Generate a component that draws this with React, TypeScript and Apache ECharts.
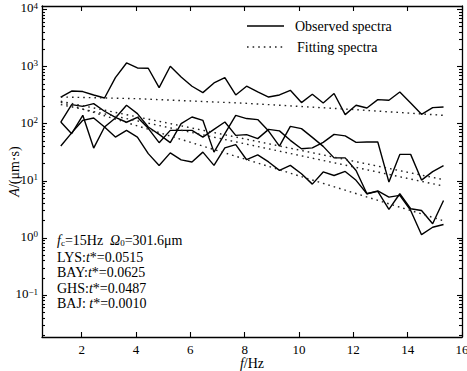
import React, { useEffect, useRef } from "react";
import * as echarts from "echarts";

// Frequencies (Hz) of the observed spectra samples
const freqs = [1.23, 1.63, 2.04, 2.44, 2.84, 3.24, 3.65, 4.05, 4.45, 4.85, 5.26, 5.66, 6.06, 6.46, 6.87, 7.27, 7.67, 8.07, 8.48, 8.88, 9.28, 9.68, 10.09, 10.49, 10.89, 11.29, 11.70, 12.10, 12.50, 12.90, 13.31, 13.71, 14.11, 14.51, 14.92, 15.32];

// Observed spectra (A, µm·s)
const obsTop = [293, 373, 365, 318, 282, 641, 1156, 945, 933, 428, 1012, 658, 452, 350, 516, 641, 318, 453, 362, 293, 318, 384, 234, 327, 230, 337, 144, 210, 188, 264, 257, 359, 230, 146, 191, 196];
const obsUpper = [107, 216, 201, 225, 165, 129, 106, 129, 83, 46.5, 76.4, 76.4, 76.4, 58.3, 79.6, 107, 62.5, 64.3, 54.7, 79.6, 74.9, 51.1, 36.5, 37.7, 47.1, 65.1, 61.2, 47.1, 47.7, 47.7, 9.5, 29.0, 29.0, 10.3, 14.5, 18.4];
const obsMiddle = [107, 66.9, 140, 37.4, 87.4, 126, 210, 150, 87.4, 65.1, 46.5, 100, 131, 114.5, 31.8, 66.9, 140, 123, 118, 74.3, 40.6, 89.9, 81.9, 57.6, 40.1, 25.2, 25.2, 15.2, 5.94, 6.52, 3.15, 5.94, 3.24, 3.03, 1.77, 4.53];
const obsLower = [40.6, 69.1, 114.5, 126, 87.4, 58.3, 76.4, 58.3, 29.9, 18.6, 30.8, 23.2, 21.3, 31.8, 18.6, 37.7, 43.1, 23.4, 28.4, 21.4, 15.2, 18.6, 13.3, 8.75, 14.3, 12.4, 14.6, 10.2, 5.94, 6.65, 5.18, 5.55, 3.03, 1.14, 1.54, 1.72];

// Fitting spectra (read at a few frequencies)
const fitFreqTop = [1.23, 4, 8, 12, 15.32];
const fitTop = [293, 274, 228, 177, 140];
const fitFreqOthers = [1.23, 8.28, 15.32];
const fitUpper = [247, 51, 10.5];
const fitMiddle = [216, 41.7, 8.1];
const fitLower = [237, 21.9, 2.0];

// Axes
const xTicks = [2, 4, 6, 8, 10, 12, 14, 16];
const yDecades = [-1, 0, 1, 2, 3, 4];
const X_MIN = 0.538;
const X_MAX = 16;
const Y_MIN = -1.734;
const Y_MAX = 4.06;

const annotationLines = [
  "{i|f}{sub|c}=15Hz  {i|Ω}{sub|0}=301.6μm",
  "LYS:{i|t}*=0.0515",
  "BAY:{i|t}*=0.0625",
  "GHS:{i|t}*=0.0487",
  "BAJ: {i|t}*=0.0010",
];
const legendLabels = ["Observed spectra", "Fitting spectra"];

const FONT = '"Liberation Serif", "Times New Roman", Times, serif';

function toPairs(xs: number[], ys: number[]) {
  return xs.map((x, i) => [x, Math.log10(ys[i])]);
}

const minorTicks: number[] = [];
for (let n = -2; n <= 3; n++) {
  for (let k = 2; k <= 9; k++) {
    const v = n + Math.log10(k);
    if (v > Y_MIN && v < Y_MAX) minorTicks.push(v);
  }
}

export default function App() {
  const ref = useRef<HTMLDivElement>(null);

  useEffect(() => {
    if (!ref.current) return;
    const chart = echarts.init(ref.current, undefined, { renderer: "svg" });

    const axisLineStyle = { color: "#000", width: 1.3 };
    const tickStyle = { color: "#000", width: 1.1 };

    const makeY = (position: "left" | "right", values: number[], len: number, showLine: boolean, showLabel: boolean) => ({
      type: "value",
      position,
      min: Y_MIN,
      max: Y_MAX,
      axisLine: { show: showLine, onZero: false, lineStyle: axisLineStyle },
      axisTick: { show: true, inside: true, length: len, customValues: values, lineStyle: tickStyle },
      axisLabel: showLabel
        ? {
            show: true,
            customValues: yDecades,
            margin: 4,
            formatter: (v: number) => `{b|10}{s|${v < 0 ? "−" + -v : v}}`,
            rich: {
              b: { fontSize: 13, fontFamily: FONT, color: "#000", lineHeight: 16, verticalAlign: "top" },
              s: { fontSize: 9, fontFamily: FONT, color: "#000", lineHeight: 9, verticalAlign: "top" },
            },
          }
        : { show: false },
      splitLine: { show: false },
    });

    const dotted = { color: "#222", width: 1.4, type: [1.6, 4] as number[] };
    const solid = { color: "#000", width: 1.4 };

    const lineSeries = (data: number[][], style: any) => ({
      type: "line",
      data,
      showSymbol: false,
      symbol: "none",
      lineStyle: style,
      xAxisIndex: 0,
      yAxisIndex: 0,
      silent: true,
    });

    const textRich = {
      i: { fontSize: 14, fontFamily: FONT, fontStyle: "italic", fill: "#000", lineHeight: 16, verticalAlign: "bottom" },
      n: { fontSize: 14, fontFamily: FONT, fill: "#000", lineHeight: 16, verticalAlign: "bottom" },
      sub: { fontSize: 9, fontFamily: FONT, fill: "#000", lineHeight: 9, verticalAlign: "bottom" },
    };

    const annoY = [239, 256, 271.5, 287, 302];

    chart.setOption({
      animation: false,
      backgroundColor: "#fff",
      grid: { left: 42, right: 5, top: 6, bottom: 34, containLabel: false, outerBoundsMode: "none" },
      xAxis: [
        {
          type: "value",
          position: "bottom",
          min: X_MIN,
          max: X_MAX,
          axisLine: { show: true, onZero: false, lineStyle: axisLineStyle },
          axisTick: { show: true, inside: true, length: 5, customValues: xTicks, lineStyle: tickStyle },
          axisLabel: { show: true, customValues: xTicks, margin: 6, fontSize: 13, fontFamily: FONT, color: "#000" },
          splitLine: { show: false },
          name: "{i|f}/Hz",
          nameLocation: "middle",
          nameGap: 19,
          nameMoveOverlap: false,
          nameTextStyle: {
            fontSize: 14,
            fontFamily: FONT,
            color: "#000",
            rich: {
              i: { fontSize: 14, fontFamily: FONT, fontStyle: "italic", color: "#000" },
            },
          },
        },
        {
          type: "value",
          position: "top",
          min: X_MIN,
          max: X_MAX,
          axisLine: { show: true, onZero: false, lineStyle: axisLineStyle },
          axisTick: { show: true, inside: true, length: 5, customValues: xTicks, lineStyle: tickStyle },
          axisLabel: { show: false },
          splitLine: { show: false },
        },
      ],
      yAxis: [
        {
          ...makeY("left", yDecades, 5, true, true),
          name: "{i|A}/(μm·s)",
          nameLocation: "middle",
          nameGap: 21,
          nameMoveOverlap: false,
          nameTextStyle: {
            fontSize: 14,
            fontFamily: FONT,
            color: "#000",
            rich: {
              i: { fontSize: 14, fontFamily: FONT, fontStyle: "italic", color: "#000" },
            },
          },
        },
        makeY("left", minorTicks, 3, false, false),
        makeY("right", yDecades, 5, true, false),
        makeY("right", minorTicks, 3, false, false),
      ],
      series: [
        lineSeries(toPairs(freqs, obsTop), solid),
        lineSeries(toPairs(freqs, obsUpper), solid),
        lineSeries(toPairs(freqs, obsMiddle), solid),
        lineSeries(toPairs(freqs, obsLower), solid),
        lineSeries(toPairs(fitFreqTop, fitTop), dotted),
        lineSeries(toPairs(fitFreqOthers, fitUpper), dotted),
        lineSeries(toPairs(fitFreqOthers, fitMiddle), dotted),
        lineSeries(toPairs(fitFreqOthers, fitLower), dotted),
      ],
      graphic: [
        { type: "line", shape: { x1: 247, y1: 26, x2: 284, y2: 26 }, style: { stroke: "#000", lineWidth: 1.4 } },
        { type: "line", shape: { x1: 247, y1: 47, x2: 284, y2: 47 }, style: { stroke: "#222", lineWidth: 1.4, lineDash: [1.6, 4] } },
        { type: "text", x: 295, y: 26, style: { text: legendLabels[0], fontSize: 14, fontFamily: FONT, fill: "#000", verticalAlign: "middle" } },
        { type: "text", x: 297, y: 47, style: { text: legendLabels[1], fontSize: 14, fontFamily: FONT, fill: "#000", verticalAlign: "middle" } },
        ...annotationLines.map((t, i) => ({
          type: "text",
          x: 57,
          y: annoY[i],
          style: {
            text: t.replace(/(^|\})([^{}]+)(?=\{|$)/g, (m: string, p: string, s: string) => `${p}{n|${s}}`),
            rich: textRich,
            fontSize: 14,
            fontFamily: FONT,
            fill: "#000",
            align: "left",
            verticalAlign: "middle",
          },
        })),
      ],
    });

    return () => chart.dispose();
  }, []);

  return (
    <div
      ref={ref}
      style={{ position: "absolute", left: 0, top: 0, width: 467, height: 371, background: "#fff" }}
    />
  );
}
